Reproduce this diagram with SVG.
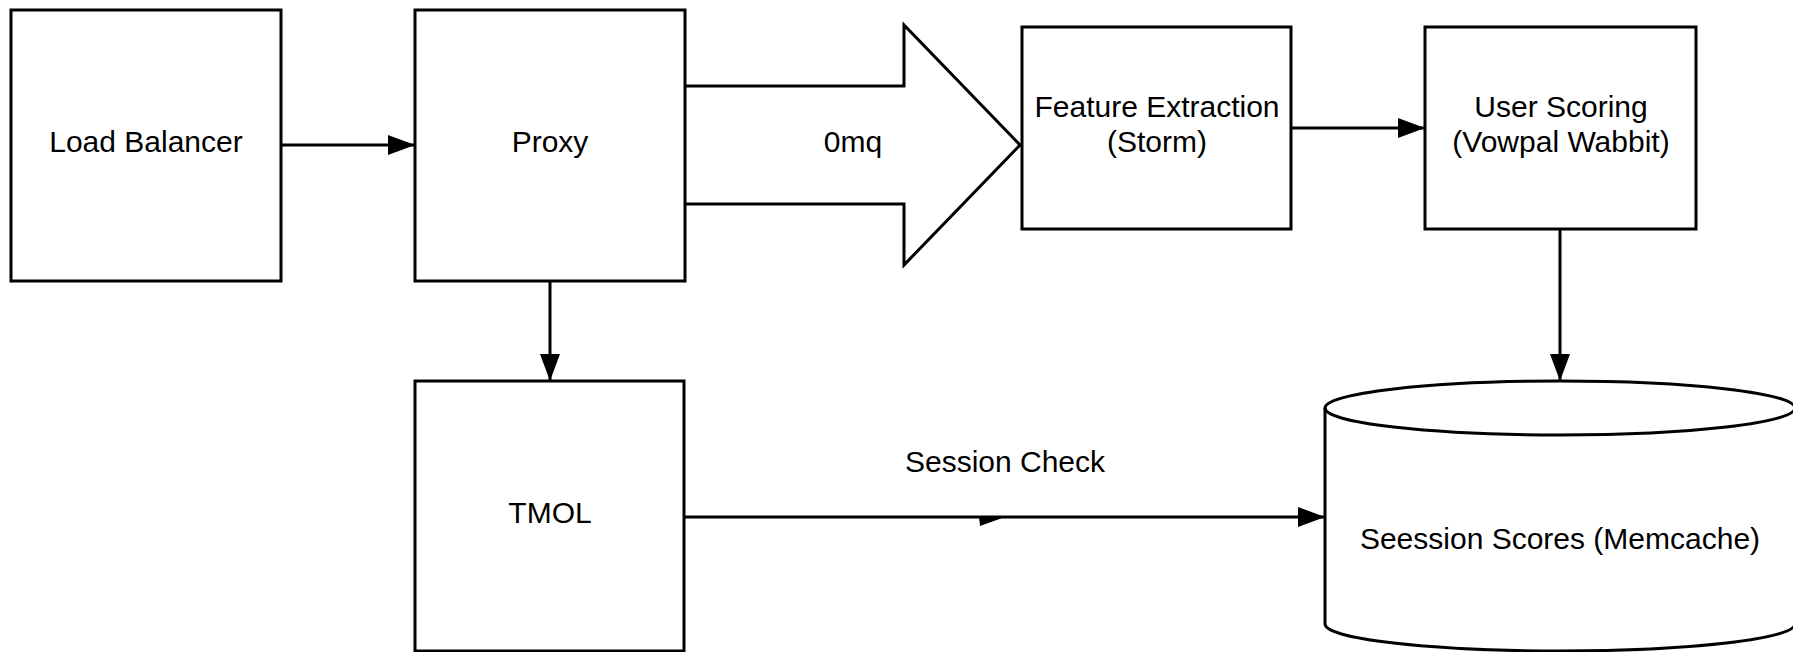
<svg xmlns="http://www.w3.org/2000/svg" width="1793" height="652" viewBox="0 0 1793 652">
<style>
.box{fill:#fff;stroke:#000;stroke-width:3}
.lbl{font-family:"Liberation Sans",Arial,sans-serif;font-size:30px;fill:#000;text-anchor:middle}
.con{fill:none;stroke:#000;stroke-width:3}
</style>
<defs>
<marker id="ah" markerUnits="userSpaceOnUse" markerWidth="28" markerHeight="20" refX="27" refY="10" orient="auto">
<path d="M0,0 L27,10 L0,20 Z" fill="#000"/>
</marker>
</defs>
<rect width="1793" height="652" fill="#fff"/>
<g id="load-balancer">
<rect class="box" x="11" y="10" width="270" height="271"/>
<text class="lbl" x="146" y="152">Load Balancer</text>
</g>
<g id="proxy">
<rect class="box" x="415" y="10" width="270" height="271"/>
<text class="lbl" x="550" y="152">Proxy</text>
</g>
<g id="zeromq">
<path d="M685,86 L904,86 L904,25 L1020,145 L904,265 L904,204 L685,204" fill="none" stroke="#000" stroke-width="3" stroke-linejoin="miter"/>
<text class="lbl" x="853" y="152">0mq</text>
</g>
<g id="feature-extraction">
<rect class="box" x="1022" y="27" width="269" height="202"/>
<text class="lbl" x="1157" y="117">Feature Extraction</text>
<text class="lbl" x="1157" y="152">(Storm)</text>
</g>
<g id="user-scoring">
<rect class="box" x="1425" y="27" width="271" height="202"/>
<text class="lbl" x="1561" y="117">User Scoring</text>
<text class="lbl" x="1561" y="152">(Vowpal Wabbit)</text>
</g>
<g id="tmol">
<rect class="box" x="415" y="381" width="269" height="270"/>
<text class="lbl" x="550" y="523">TMOL</text>
</g>
<g id="session-scores">
<path d="M1325,408 A235,27 0 0 1 1795,408 L1795,624 A235,27 0 0 1 1325,624 Z" fill="#fff" stroke="#000" stroke-width="3"/>
<path d="M1325,408 A235,27 0 0 0 1795,408" fill="none" stroke="#000" stroke-width="3"/>
<text class="lbl" x="1560" y="549">Seession Scores (Memcache)</text>
</g>
<g id="connectors">
<line class="con" x1="281" y1="145" x2="415" y2="145" marker-end="url(#ah)"/>
<line class="con" x1="550" y1="281" x2="550" y2="381" marker-end="url(#ah)"/>
<line class="con" x1="1291" y1="128" x2="1425" y2="128" marker-end="url(#ah)"/>
<line class="con" x1="1560" y1="229" x2="1560" y2="381" marker-end="url(#ah)"/>
<line class="con" x1="684" y1="517" x2="1325" y2="517" marker-end="url(#ah)"/>
<polygon points="979,517 1005,517 980,526" fill="#000"/>
<text class="lbl" x="1005" y="472">Session Check</text>
</g>
</svg>
